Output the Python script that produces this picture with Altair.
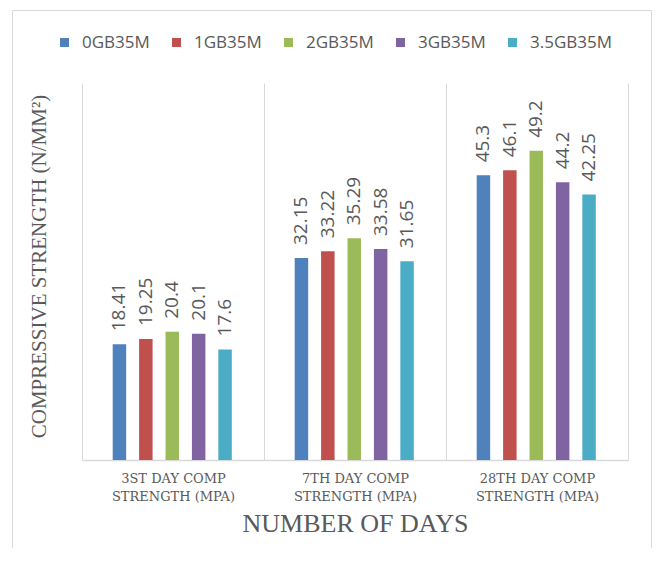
import altair as alt
import pandas as pd

categories = ["3ST DAY COMP STRENGTH (MPA)", "7TH DAY COMP STRENGTH (MPA)", "28TH DAY COMP STRENGTH (MPA)"]
series = ["0GB35M", "1GB35M", "2GB35M", "3GB35M", "3.5GB35M"]
day3 = [18.41, 19.25, 20.4, 20.1, 17.6]
day7 = [32.15, 33.22, 35.29, 33.58, 31.65]
day28 = [45.3, 46.1, 49.2, 44.2, 42.25]
colors = ["#4F81BD", "#C0504D", "#9BBB59", "#8064A2", "#4BACC6"]

rows = []
for cat, vals in zip(categories, [day3, day7, day28]):
    for s, v in zip(series, vals):
        rows.append({"day": cat, "mix": s, "value": v, "label": str(v)})
df = pd.DataFrame(rows)

W, H = 546, 377
GRAY = "#595959"
LINE = "#d9d9d9"

x = alt.X(
    "day:N", sort=categories,
    scale=alt.Scale(paddingInner=0, paddingOuter=0),
    axis=alt.Axis(
        title="NUMBER OF DAYS",
        labelExpr="[substring(datum.label, 0, indexof(datum.label, ' STRENGTH')), substring(datum.label, indexof(datum.label, 'STRENGTH'))]",
        grid=True, tickBand="extent", gridColor=LINE, gridWidth=1,
        ticks=False, domainColor=LINE, domainWidth=1.5,
        labelAngle=0, labelFont="DejaVu Serif", labelFontSize=13, labelColor=GRAY,
        labelLineHeight=18, labelPadding=12, labelBaseline="top",
        titleFont="Liberation Serif", titleFontSize=26, titleFontWeight="normal",
        titleColor=GRAY, titlePadding=7,
    ),
)
y = alt.Y(
    "value:Q",
    scale=alt.Scale(domain=[0, 60], nice=False),
    axis=alt.Axis(
        title="COMPRESSIVE STRENGTH (N/MM²)", domain=False, labels=False, ticks=False, grid=False,
        titleFont="Liberation Serif", titleFontSize=21, titleFontWeight="normal",
        titleColor=GRAY, titlePadding=33, titleY=183,
    ),
)
xo = alt.XOffset("mix:N", sort=series,
                 scale=alt.Scale(range=[30.7, 149.8], paddingInner=0.49, paddingOuter=0))

bars = alt.Chart(df).mark_bar().encode(
    x=x, y=y, xOffset=xo,
    color=alt.Color(
        "mix:N", sort=series,
        scale=alt.Scale(domain=series, range=colors),
        legend=alt.Legend(
            orient="none", direction="horizontal", legendX=-26, legendY=-49,
            title=None, symbolType="square", symbolSize=81, symbolStrokeWidth=0,
            symbolOpacity=1, labelFont="Open Sans", labelFontSize=17, labelColor=GRAY,
            labelOffset=9, columnPadding=18, gridAlign="none",
        ),
    ),
)

labels = alt.Chart(df).mark_text(
    angle=270, align="left", baseline="middle", dx=13,
    font="Open Sans", fontSize=19, color=GRAY,
).encode(x=x, y=y, xOffset=xo, text="label:N")

frame = alt.Chart(pd.DataFrame({"a": [0]})).mark_rect(
    filled=False, stroke=LINE, strokeWidth=1
).encode(
    x=alt.value(-69.5), x2=alt.value(569.5), y=alt.value(-72.5), y2=alt.value(480)
)

chart = alt.layer(frame, bars, labels).properties(
    width=W, height=H,
    autosize=alt.AutoSizeParams(type="none"),
    padding={"left": 74, "top": 75, "right": 24, "bottom": 88},
    background="white",
).configure_view(stroke=None)

chart.save("out.html", embed_options={"renderer": "svg", "actions": False})
